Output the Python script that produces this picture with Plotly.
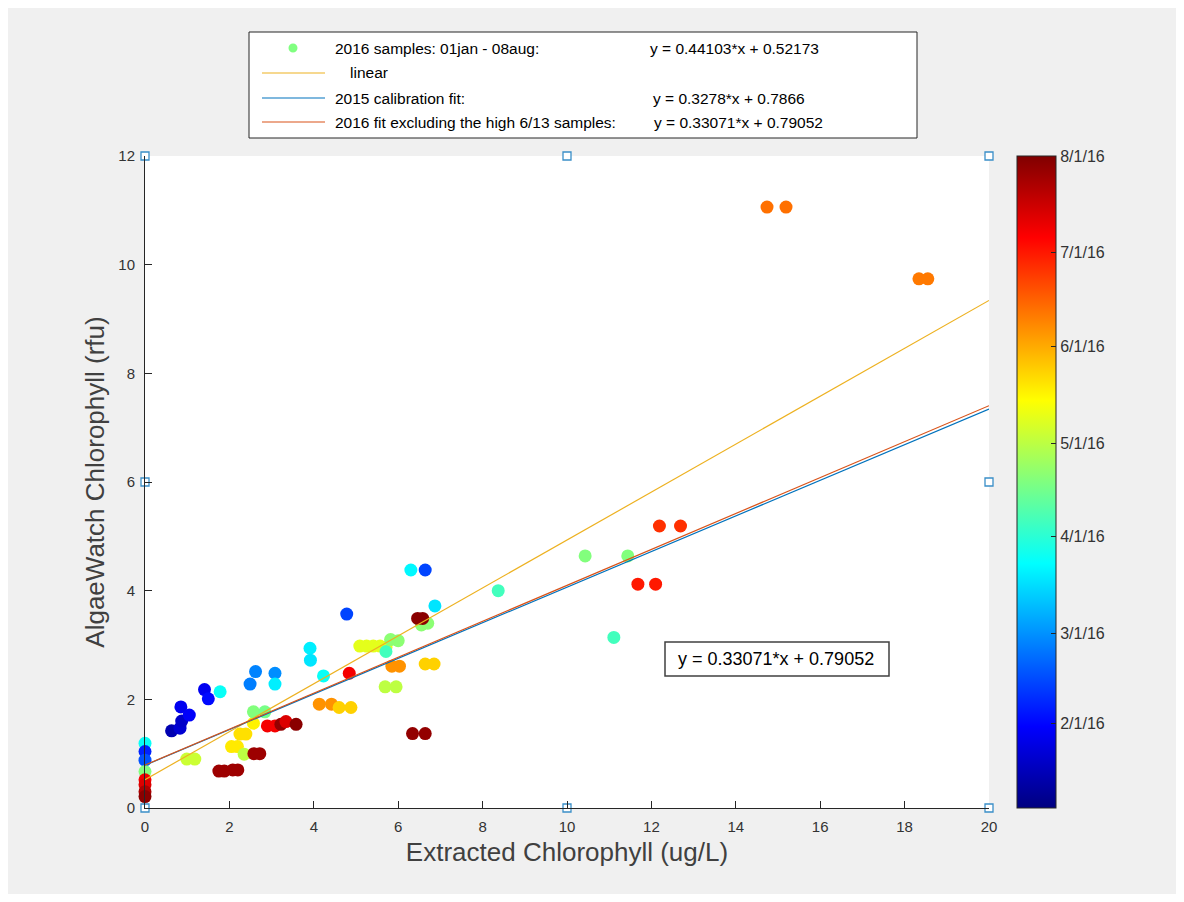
import plotly.graph_objects as go

# ---------------- data ----------------
sample_x = [0, 0, 0, 0, 0, 0, 0, 0,
            0.63, 0.83, 0.87, 0.85, 1.05, 1.41, 1.50, 1.78,
            0.99, 1.18,
            1.75, 1.88, 2.08, 2.20,
            2.05, 2.19, 2.25, 2.39,
            2.35, 2.58, 2.72,
            2.57, 2.57, 2.84,
            2.49, 2.62, 3.08, 3.08,
            2.90, 3.08, 3.22, 3.34, 3.58,
            3.91, 3.92, 4.23,
            4.13, 4.42, 4.60, 4.88,
            4.78, 4.84,
            5.09, 5.25, 5.41, 5.57, 5.71,
            5.71, 5.82, 6.00,
            5.85, 6.03, 6.64, 6.85,
            5.69, 5.95,
            6.55, 6.70, 6.46, 6.58,
            6.87, 6.30, 6.64,
            6.34, 6.64,
            8.37, 10.43, 11.44, 11.11,
            12.19, 12.69, 11.68, 12.10,
            14.74, 15.19, 18.34, 18.55]
sample_y = [1.19, 1.04, 0.88, 0.67, 0.52, 0.43, 0.30, 0.21,
            1.42, 1.47, 1.60, 1.86, 1.71, 2.18, 2.01, 2.14,
            0.90, 0.90,
            0.68, 0.68, 0.70, 0.70,
            1.13, 1.13, 1.36, 1.36,
            0.99, 1.00, 1.00,
            1.56, 1.77, 1.77,
            2.28, 2.51, 2.48, 2.28,
            1.51, 1.51, 1.54, 1.59, 1.54,
            2.94, 2.72, 2.43,
            1.91, 1.91, 1.85, 1.85,
            3.57, 2.48,
            2.98, 2.98, 2.98, 2.98, 2.96,
            2.88, 3.10, 3.08,
            2.61, 2.61, 2.65, 2.65,
            2.23, 2.23,
            3.37, 3.40, 3.49, 3.49,
            3.72, 4.38, 4.38,
            1.37, 1.37,
            4.00, 4.64, 4.64, 3.14,
            5.19, 5.19, 4.12, 4.12,
            11.06, 11.06, 9.74, 9.74]
# sample date as day of year 2016 (1 = Jan 1)
sample_day = [85, 38, 48, 110, 190, 195, 205, 212,
              15, 22, 20, 28, 30, 28, 33, 85,
              125, 125,
              208, 208, 208, 208,
              140, 140, 142, 142,
              122, 208, 208,
              138, 110, 108,
              57, 58, 60, 80,
              190, 190, 210, 195, 212,
              80, 78, 85,
              158, 158, 145, 145,
              45, 190,
              130, 130, 130, 130, 130,
              97, 112, 112,
              158, 158, 145, 145,
              122, 122,
              112, 112, 212, 212,
              78, 82, 45,
              210, 210,
              97, 110, 110, 97,
              178, 178, 183, 183,
              165, 165, 163, 163]

handle_x = [0, 10, 20, 0, 20, 0, 10, 20]
handle_y = [0, 0, 0, 6, 6, 12, 12, 12]

fit_names = ["linear", "2015 calibration fit:", "2016 fit excluding the high 6/13 samples:"]
fit_slope = [0.44103, 0.3278, 0.33071]
fit_intercept = [0.52173, 0.7866, 0.79052]
fit_colors = ["#EDB120", "#0072BD", "#D95319"]
fit_x_range = [0, 20]

cbar_tickvals = [32, 61, 92, 122, 153, 183, 214]
cbar_ticktext = ["2/1/16", "3/1/16", "4/1/16", "5/1/16", "6/1/16", "7/1/16", "8/1/16"]
day_min, day_max = 5, 214

x_ticks = list(range(0, 21, 2))
y_ticks = list(range(0, 13, 2))

# MATLAB jet colormap
jet = [[0.0, "rgb(0,0,128)"], [0.125, "rgb(0,0,255)"], [0.375, "rgb(0,255,255)"],
       [0.625, "rgb(255,255,0)"], [0.875, "rgb(255,0,0)"], [1.0, "rgb(128,0,0)"]]

# ---------------- layout geometry (page pixels) ----------------
PL, PR, PT, PB = 145, 989, 156, 808
PW, PH = PR - PL, PB - PT


def fx(px):
    return (px - PL) / PW


def fy(py):
    return (PB - py) / PH


FONT = "Liberation Sans, Arial"

fig = go.Figure()

fig.add_trace(go.Scatter(
    x=sample_x, y=sample_y, mode="markers", cliponaxis=False, showlegend=False,
    marker=dict(size=13, color=sample_day, colorscale=jet, cmin=day_min, cmax=day_max,
                line=dict(width=0),
                colorbar=dict(x=fx(1017), xanchor="left", xref="paper", y=0.5, yanchor="middle",
                              len=1, lenmode="fraction", thickness=39, thicknessmode="pixels",
                              xpad=0, ypad=0, outlinewidth=1, outlinecolor="#262626",
                              tickvals=cbar_tickvals, ticktext=cbar_ticktext,
                              ticks="inside", ticklen=5, tickcolor="#262626",
                              tickfont=dict(family=FONT, size=16, color="#333333"))),
))

for name, m, b, c in zip(fit_names, fit_slope, fit_intercept, fit_colors):
    fig.add_trace(go.Scatter(
        x=fit_x_range, y=[m * v + b for v in fit_x_range], mode="lines",
        line=dict(color=c, width=1.2), showlegend=False, name=name, cliponaxis=True))

fig.add_trace(go.Scatter(
    x=handle_x, y=handle_y, mode="markers", cliponaxis=False, showlegend=False,
    marker=dict(symbol="square", size=8, color="white", line=dict(color="#3a8fc8", width=1.3))))

# ---------------- custom legend ----------------
shapes = []
annotations = []
shapes.append(dict(type="rect", xref="paper", yref="paper", x0=fx(249), x1=fx(917), y0=fy(138), y1=fy(32),
                   fillcolor="white", line=dict(color="#262626", width=1)))
row_y = [48, 73, 98, 122]
shapes.append(dict(type="circle", xref="paper", yref="paper", xsizemode="pixel", ysizemode="pixel",
                   xanchor=fx(293), yanchor=fy(row_y[0]), x0=-4.5, x1=4.5, y0=-4.5, y1=4.5,
                   fillcolor="#80ff80", line=dict(width=0)))
for r, c in zip(row_y[1:], fit_colors):
    shapes.append(dict(type="line", xref="paper", yref="paper", x0=fx(262), x1=fx(325), y0=fy(r), y1=fy(r),
                       line=dict(color=c, width=1.2)))

legend_texts = ["2016 samples: 01jan - 08aug:", fit_names[0], fit_names[1], fit_names[2]]
legend_tx = [333, 348, 333, 333]
eq_texts = ["y = 0.44103*x + 0.52173", None,
            "y = %.4f*x + %.4f" % (fit_slope[1], fit_intercept[1]),
            "y = %.5f*x + %.5f" % (fit_slope[2], fit_intercept[2])]
eq_tx = [648, None, 651, 652]
lf = dict(family=FONT, size=15.5, color="#000000")
for t, tx, r in zip(legend_texts, legend_tx, row_y):
    annotations.append(dict(text=t, x=fx(tx), y=fy(r), xref="paper", yref="paper", xanchor="left",
                            yanchor="middle", showarrow=False, font=lf))
for t, tx, r in zip(eq_texts, eq_tx, row_y):
    if t:
        annotations.append(dict(text=t, x=fx(tx), y=fy(r), xref="paper", yref="paper", xanchor="left",
                                yanchor="middle", showarrow=False, font=lf))

# equation text box
shapes.append(dict(type="rect", xref="paper", yref="paper", x0=fx(665), x1=fx(889), y0=fy(676), y1=fy(642),
                   fillcolor="white", line=dict(color="#404040", width=1.5)))
annotations.append(dict(text="y = %.5f*x + %.5f" % (fit_slope[2], fit_intercept[2]),
                        x=fx(676), y=fy(659), xref="paper", yref="paper", xanchor="left", yanchor="middle",
                        showarrow=False, font=dict(family=FONT, size=18, color="#000000")))

axis_font = dict(family=FONT, size=15, color="#333333")
title_font = dict(family=FONT, size=26, color="#404040")

fig.update_layout(
    width=1168, height=886,
    margin=dict(l=PL - 8, r=1168 - (PR - 8), t=PT - 8, b=886 - (PB - 8), pad=0),
    paper_bgcolor="#f0f0f0", plot_bgcolor="white",
    shapes=shapes, annotations=annotations, showlegend=False,
    xaxis=dict(range=[0, 20], tickvals=x_ticks, ticks="inside", ticklen=7, tickcolor="#262626",
               showline=True, linecolor="#262626", linewidth=1, showgrid=False, zeroline=False,
               ticklabelstandoff=5,
               tickfont=axis_font, title=dict(text="Extracted Chlorophyll (ug/L)", font=title_font, standoff=8)),
    yaxis=dict(range=[0, 12], tickvals=y_ticks, ticks="inside", ticklen=7, tickcolor="#262626",
               showline=True, linecolor="#262626", linewidth=1, showgrid=False, zeroline=False,
               ticklabelstandoff=6,
               tickfont=axis_font, title=dict(text="AlgaeWatch Chlorophyll (rfu)", font=title_font, standoff=6)),
)

fig.write_html("out.html")
